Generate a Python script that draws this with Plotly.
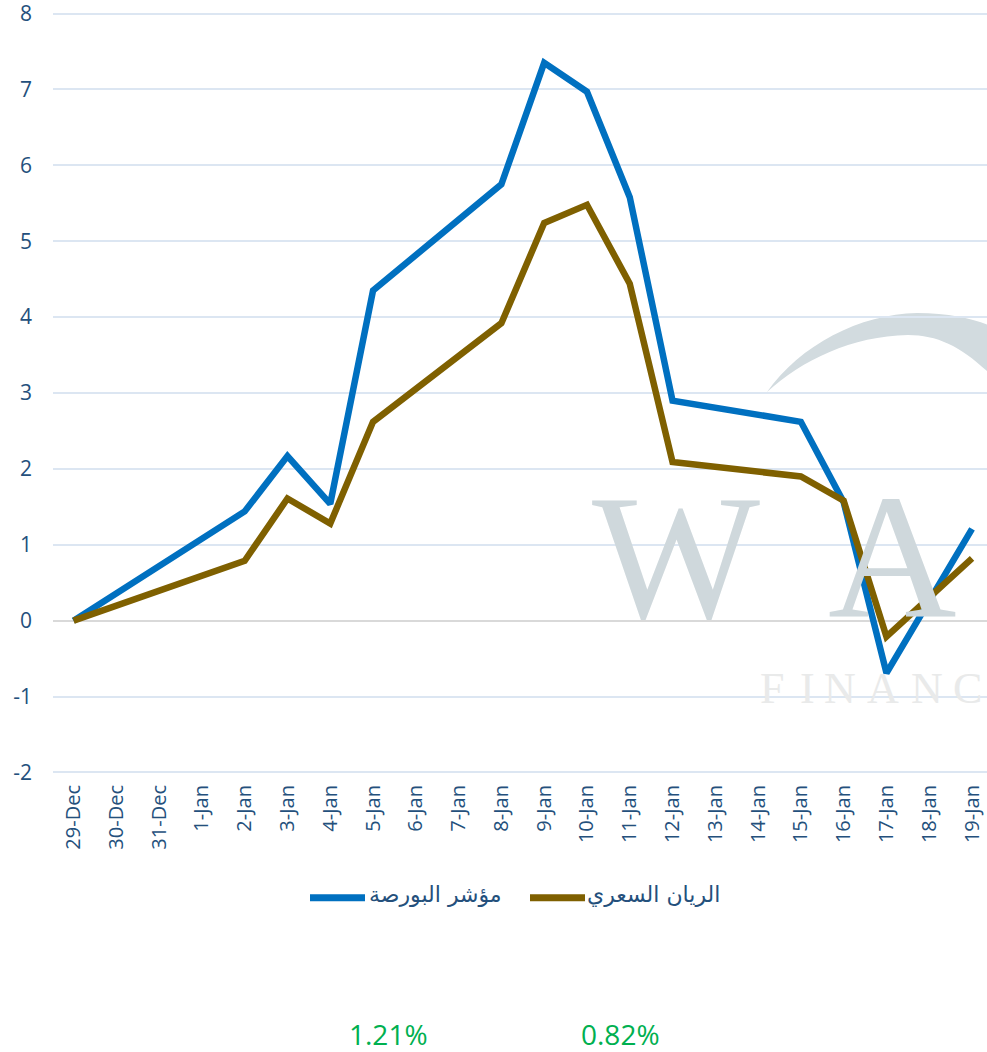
import plotly.graph_objects as go

# ---- data ----
dates = ["29-Dec", "30-Dec", "31-Dec", "1-Jan", "2-Jan", "3-Jan", "4-Jan", "5-Jan",
         "6-Jan", "7-Jan", "8-Jan", "9-Jan", "10-Jan", "11-Jan", "12-Jan", "13-Jan",
         "14-Jan", "15-Jan", "16-Jan", "17-Jan", "18-Jan", "19-Jan"]
index_name = "مؤشر البورصة"
rayan_name = "الريان السعري"
index_vals = [0.0, None, None, None, 1.44, 2.17, 1.54, 4.35, None, None, 5.75, 7.35,
              6.97, 5.58, 2.90, None, None, 2.62, 1.56, -0.69, None, 1.21]
rayan_vals = [0.0, None, None, None, 0.79, 1.61, 1.28, 2.62, None, None, 3.92, 5.24,
              5.48, 4.44, 2.09, None, None, 1.90, 1.58, -0.21, None, 0.82]
final_labels = ["1.21%", "0.82%"]
y_ticks = [-2, -1, 0, 1, 2, 3, 4, 5, 6, 7, 8]
y_ticktext = ["-2", "-1", "0", "1", "2", "3", "4", "5", "6", "7", "8"]

BLUE = "#0070C0"
BROWN = "#7F6000"
TXT = "#24507C"
W, H = 987, 1052
L = 53
Y_TOP_PX, Y_BOT_PX = 14, 772          # pixel rows of y=8 and y=-2
PAD = 0.02                            # small range padding so edge gridlines are drawn
UNIT = (Y_BOT_PX - Y_TOP_PX) / 10.0
T = Y_TOP_PX - PAD * UNIT
BOT = Y_BOT_PX + PAD * UNIT
B = H - BOT
PW, PH = W - L, BOT - T


def px(x, y):
    return (x - L) / PW, (BOT - y) / PH


fig = go.Figure()
fig.add_trace(go.Scatter(x=dates, y=index_vals, mode="lines", name=index_name,
                         connectgaps=True, line=dict(color=BLUE, width=6.5),
                         showlegend=False))
fig.add_trace(go.Scatter(x=dates, y=rayan_vals, mode="lines", name=rayan_name,
                         connectgaps=True, line=dict(color=BROWN, width=6.5),
                         showlegend=False))

shapes = []
annotations = []

# watermark crescent
pts = [(767, 392), (800, 345), (860, 314), (917, 313), (950, 313), (975, 319), (990, 326),
       (990, 374), (962, 347), (938, 335), (908, 335), (852, 336), (802, 360), (767, 392)]
pp = [px(a, b) for a, b in pts]
path = "M {} {} C {} {} {} {} {} {} C {} {} {} {} {} {} L {} {} C {} {} {} {} {} {} C {} {} {} {} {} {} Z".format(
    *[v for p in pp for v in p])
shapes.append(dict(type="path", path=path, xref="paper", yref="paper",
                   fillcolor="#D2DBDF", line=dict(width=0), layer="below"))

# watermark letters
for letter, cx in [("W", 676), ("A", 892)]:
    x0, y0 = px(cx, 620)
    annotations.append(dict(text=letter, x=x0, y=y0, xref="paper", yref="paper",
                            xanchor="center", yanchor="bottom", showarrow=False,
                            yshift=-38,
                            font=dict(family="Liberation Serif", size=178, color="#CFD8DC")))
for letter, cx in [("F", 772), ("I", 807), ("N", 840), ("A", 883), ("N", 927), ("C", 967)]:
    x0, y0 = px(cx, 688)
    annotations.append(dict(text=letter, x=x0, y=y0, xref="paper", yref="paper",
                            xanchor="center", yanchor="middle", showarrow=False,
                            font=dict(family="Liberation Serif", size=44, color="#E9EAEA")))

# legend (manual, line sample to the left of its label)
for (x1, x2, tx, name, col) in [(310, 365, 367, index_name, BLUE),
                                (530, 585, 585, rayan_name, BROWN)]:
    a, yy = px(x1, 897)
    b, _ = px(x2, 897)
    shapes.append(dict(type="line", xref="paper", yref="paper", x0=a, x1=b, y0=yy, y1=yy,
                       line=dict(color=col, width=7)))
    t0, ty = px(tx, 894)
    annotations.append(dict(text=name, x=t0, y=ty, xref="paper", yref="paper",
                            xanchor="left", yanchor="middle", showarrow=False,
                            font=dict(family="DejaVu Sans", size=22, color=TXT)))

# final change labels
for lab, cx in zip(final_labels, [388, 620]):
    x0, y0 = px(cx, 1033)
    annotations.append(dict(text=lab, x=x0, y=y0, xref="paper", yref="paper",
                            xanchor="center", yanchor="middle", showarrow=False,
                            font=dict(family="Open Sans", size=28, color="#00B050")))

fig.update_layout(
    width=W, height=H,
    margin=dict(l=L, r=0, t=T, b=B, pad=0),
    paper_bgcolor="white", plot_bgcolor="white",
    font=dict(family="Open Sans", color=TXT),
    shapes=shapes, annotations=annotations,
    xaxis=dict(type="category", range=[-0.48, 21.35], tickangle=-90,
               showgrid=False, showline=False, zeroline=False, ticks="",
               tickfont=dict(size=20, color=TXT), ticklabelstandoff=6),
    yaxis=dict(range=[-2 - PAD, 8 + PAD], tickvals=y_ticks, ticktext=y_ticktext,
               showgrid=True, gridcolor="#DCE6F2",
               gridwidth=2, zeroline=True, zerolinecolor="#D9D9D9", zerolinewidth=2,
               showline=False, ticks="", tickfont=dict(size=21, color=TXT),
               ticklabelstandoff=20, ticklabeloverflow="allow"),
    showlegend=False,
)

fig.write_html("out.html", config={"displayModeBar": False},
               post_script="document.body.style.margin='0px';document.body.style.overflow='hidden';")
